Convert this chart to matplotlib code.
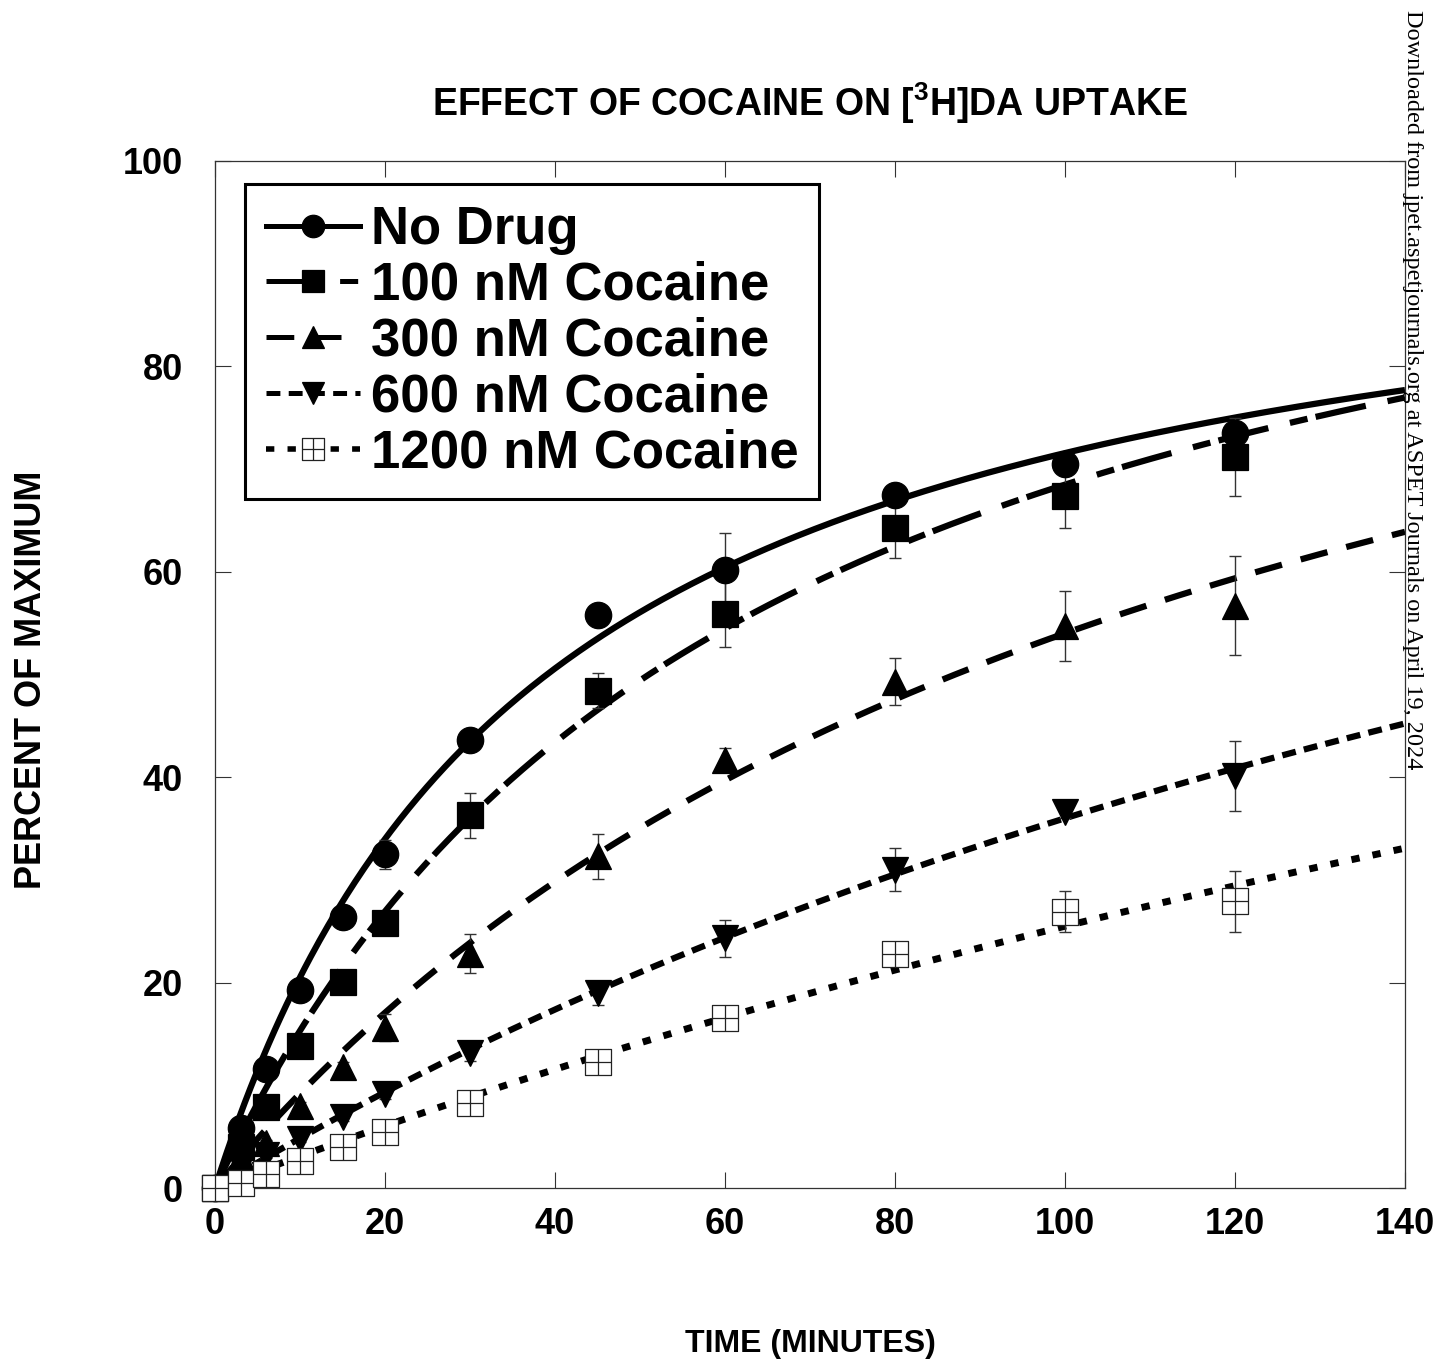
import numpy as np
import matplotlib
matplotlib.use("Agg")
import matplotlib.pyplot as plt
from matplotlib.path import Path
from matplotlib.lines import Line2D

plt.rcParams["font.family"] = ["Liberation Sans", "DejaVu Sans"]
plt.rcParams["font.weight"] = "bold"
plt.rcParams["mathtext.fontset"] = "custom"
plt.rcParams["mathtext.rm"] = "Liberation Sans:bold"
plt.rcParams["mathtext.bf"] = "Liberation Sans:bold"
plt.rcParams["lines.scale_dashes"] = False

# sampling times (minutes)
TIME = [0, 3, 6, 10, 15, 20, 30, 45, 60, 80, 100, 120]

# percent of maximum
NO_DRUG = [0, 5.8, 11.6, 19.3, 26.4, 32.5, 43.6, 55.8, 60.2, 67.5, 70.5, 73.5]
COC_100 = [0, 4.0, 7.9, 13.8, 20.1, 25.8, 36.3, 48.4, 55.9, 64.3, 67.4, 71.2]
COC_300 = [0, 3.0, 4.4, 8.0, 11.8, 15.6, 22.8, 32.3, 41.7, 49.3, 54.7, 56.7]
COC_600 = [0, 2.0, 3.2, 4.8, 6.9, 9.2, 13.1, 19.0, 24.3, 31.0, 36.6, 40.1]
COC_1200 = [0, 0.5, 1.4, 2.6, 4.0, 5.5, 8.3, 12.3, 16.6, 22.8, 26.9, 27.9]

# SEM
ERR_NO = [0, 0.3, 0.4, 0.5, 0.6, 1.4, 0.5, 0.6, 3.6, 0.8, 1.0, 0.8]
ERR_100 = [0, 0.3, 0.4, 0.6, 0.8, 1.0, 2.2, 1.7, 3.2, 3.0, 3.1, 3.8]
ERR_300 = [0, 0.3, 0.3, 0.4, 0.5, 1.3, 1.9, 2.2, 1.1, 2.3, 3.4, 4.8]
ERR_600 = [0, 0.2, 0.3, 0.3, 0.4, 0.5, 0.7, 1.2, 1.8, 2.1, 0.6, 3.4]
ERR_1200 = [0, 0.1, 0.2, 0.3, 0.3, 0.4, 0.5, 0.5, 0.6, 0.8, 2.0, 3.0]

# hyperbolic fit parameters (Vmax, K) estimated from the drawn curves
FIT_VMAX = [98.9, 111.5, 117.7, 126.0, 130.0]
FIT_K = [38.2, 62.8, 117.9, 250.0, 410.0]

LABELS = ["No Drug", "100 nM Cocaine", "300 nM Cocaine", "600 nM Cocaine", "1200 nM Cocaine"]

# open square with a cross inside
xsq = Path([(-1, -1), (1, -1), (1, 1), (-1, 1), (-1, -1), (0, -1), (0, 1), (-1, 0), (1, 0)],
           [Path.MOVETO, Path.LINETO, Path.LINETO, Path.LINETO, Path.CLOSEPOLY,
            Path.MOVETO, Path.LINETO, Path.MOVETO, Path.LINETO])

styles = [
    dict(marker="o", ls="-", lw=4.5, mfc="black", ms=19),
    dict(marker="s", ls=(0, (37, 16, 13, 6)), lw=4.5, mfc="black", ms=19),
    dict(marker="^", ls=(0, (20, 14)), lw=4.5, mfc="black", ms=19),
    dict(marker="v", ls=(0, (10, 6)), lw=4.5, mfc="black", ms=19),
    dict(marker=xsq, ls=(0, (6, 9.5)), lw=5, mfc="white", ms=19),
]
series = [NO_DRUG, COC_100, COC_300, COC_600, COC_1200]
errs = [ERR_NO, ERR_100, ERR_300, ERR_600, ERR_1200]

W, H = 1441, 1364
fig = plt.figure(figsize=(W / 100, H / 100), dpi=100)
ax = fig.add_axes([215 / W, (H - 1188) / H, 1190 / W, 1027 / H])

tt = np.linspace(0, 140, 400)
for i in range(5):
    st = styles[i]
    curve = FIT_VMAX[i] * tt / (FIT_K[i] + tt)
    ax.plot(tt, curve, color="black", ls=st["ls"], lw=st["lw"], zorder=2 + i * 0.1,
            solid_capstyle="butt", clip_on=False)
for i in range(5):
    st = styles[i]
    ax.errorbar(TIME, series[i], yerr=errs[i], fmt="none", ecolor="#333333",
                elinewidth=1.0, capsize=4.5, capthick=1.0, zorder=3 + i * 0.1)
    ax.plot(TIME, series[i], ls="none", marker=st["marker"], ms=st["ms"],
            mfc=st["mfc"], mec="black" if st["mfc"] == "black" else "#222222",
            mew=0.9, zorder=4 + i * 0.1, clip_on=False)

ax.set_xlim(0, 140)
ax.set_ylim(0, 100)
ax.set_xticks(np.arange(0, 141, 20))
ax.set_yticks(np.arange(0, 101, 20))
ax.tick_params(direction="in", length=11.5, width=0.8, color="#333333",
               top=True, right=True, labelsize=26)
ax.tick_params(axis="x", pad=14)
ax.tick_params(axis="y", pad=23)
for sp in ax.spines.values():
    sp.set_linewidth(0.9)
    sp.set_color("#333333")

ax.set_xlabel("TIME (MINUTES)", fontsize=23, fontweight="bold", va="center")
ax.xaxis.set_label_coords(0.5, (1188 - 1344) / 1027)
ax.set_ylabel("PERCENT OF MAXIMUM", fontsize=26, fontweight="bold", va="center")
ax.yaxis.set_label_coords((32 - 215) / 1190, (1188 - 680) / 1027)

fig.text(810 / W, 1 - 103 / H, r"EFFECT OF COCAINE ON [$^{3}$H]DA UPTAKE",
         ha="center", va="center", fontsize=27, fontweight="bold")

handles = []
for i in range(5):
    st = styles[i]
    handles.append(Line2D([], [], color="black", ls=st["ls"], lw=st["lw"] * 0.8,
                          marker=st["marker"], ms=st["ms"] * 0.85, mfc=st["mfc"],
                          mec="black" if st["mfc"] == "black" else "#222222", mew=0.9))
leg = ax.legend(handles, LABELS, loc="upper left",
                bbox_to_anchor=(245 / W, 1 - 184 / H), bbox_transform=fig.transFigure,
                borderaxespad=0, prop=dict(family="Liberation Sans", weight="bold", size=38),
                handlelength=1.78, handletextpad=0.2, labelspacing=0.11,
                borderpad=0.4, fancybox=False, framealpha=1, edgecolor="black")
leg.get_frame().set_linewidth(2.2)
leg.set_zorder(10)

fig.text(1412 / W, 1 - 390 / H,
         "Downloaded from jpet.aspetjournals.org at ASPET Journals on April 19, 2024",
         rotation=-90, ha="center", va="center", fontsize=17.5,
         family="Liberation Serif", fontweight="normal", zorder=20)

fig.savefig("out.png", dpi=100)
